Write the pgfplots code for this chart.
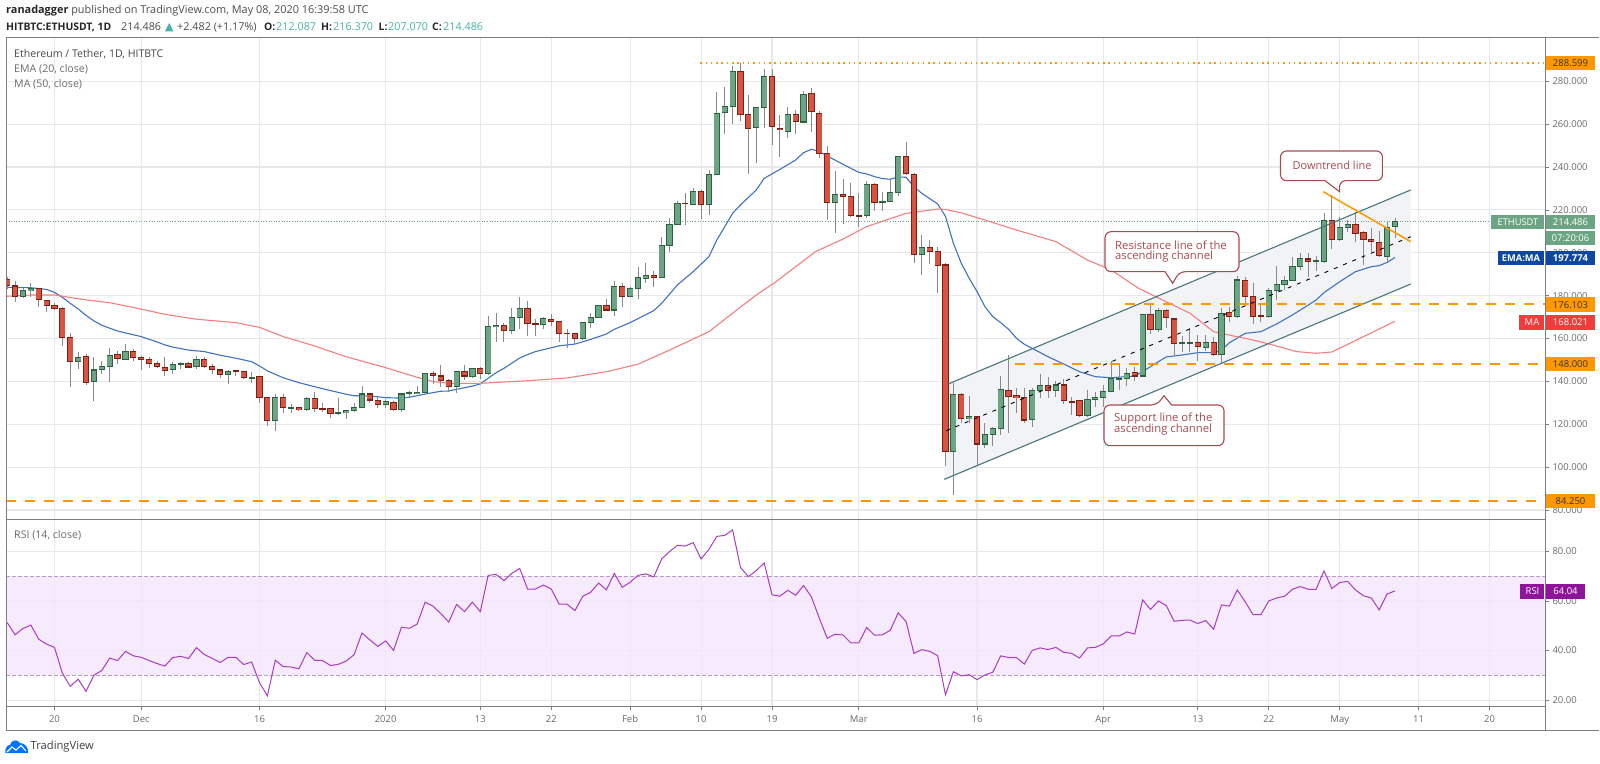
\documentclass[border=0pt]{standalone}
\usepackage{fontspec}
\setmainfont{Open Sans}
\usepackage{pgfplots}
\usepackage{pgfplotstable}
\pgfplotsset{compat=1.18}
\definecolor{upfill}{HTML}{6BA583}
\definecolor{upline}{HTML}{2C6142}
\definecolor{dnfill}{HTML}{D75442}
\definecolor{dnline}{HTML}{7A2015}
\definecolor{wick}{HTML}{8A8A8C}
\definecolor{gridc}{HTML}{E8E8EA}
\definecolor{framec}{HTML}{7E7E80}
\definecolor{emac}{HTML}{3F72C0}
\definecolor{mac}{HTML}{F47F7F}
\definecolor{orangec}{HTML}{FF9800}
\definecolor{chanl}{HTML}{4A757C}
\definecolor{chanf}{HTML}{F1F3F6}
\definecolor{rsic}{HTML}{A93CC0}
\definecolor{rsif}{HTML}{F4E6FD}
\definecolor{rsid}{HTML}{B79AC8}
\definecolor{callc}{HTML}{A94A50}
\definecolor{tealc}{HTML}{45B3A6}
\definecolor{txtg}{HTML}{6A6A6C}
\definecolor{blueb}{HTML}{0D47A1}
\definecolor{redb}{HTML}{F23B3B}
\definecolor{purb}{HTML}{8E1599}
\pgfplotstableread{
d o h l c
-6 187.6 188.9 183.0 184.7
-5 184.5 186.7 177.0 179.5
-4 179.5 183.4 178.9 182.2
-3 182.2 186.1 179.5 183.4
-2 183.3 183.7 174.9 178.0
-1 177.8 178.0 172.5 175.3
0 175.5 176.4 173.3 174.2
1 174.1 174.9 156.5 160.6
2 160.4 162.4 137.5 149.2
3 149.2 153.9 145.6 151.2
4 151.5 152.6 138.2 139.6
5 139.9 151.2 131.0 145.3
6 145.5 149.7 143.3 147.0
7 147.0 155.4 139.9 152.0
8 152.5 154.2 148.1 150.5
9 150.3 157.3 150.0 154.0
10 154.0 155.0 149.5 151.2
11 151.2 151.8 145.3 150.3
12 150.3 151.5 146.1 148.3
13 148.3 149.7 146.1 147.0
14 146.6 151.2 142.5 145.0
15 145.5 149.0 143.5 148.0
16 147.8 149.2 145.6 148.3
17 148.4 149.2 146.2 146.7
18 146.9 151.7 145.8 150.3
19 150.3 151.5 146.2 147.0
20 147.0 148.0 143.5 145.5
21 145.3 145.8 141.7 143.3
22 143.1 145.3 139.0 144.7
23 144.9 145.2 142.5 144.5
24 144.5 144.9 141.0 141.7
25 141.7 144.5 139.4 141.9
26 142.1 142.5 129.8 132.6
27 132.6 132.9 119.3 121.7
28 121.7 134.1 117.0 132.6
29 132.6 134.0 125.4 127.9
30 127.7 129.3 125.4 127.9
31 127.7 128.2 126.2 126.7
32 126.7 132.9 126.3 132.1
33 132.1 135.0 125.7 127.4
34 127.4 129.8 125.9 127.1
35 127.3 127.7 123.1 125.1
36 125.0 132.2 124.3 125.4
37 125.4 126.7 122.3 126.2
38 126.2 129.8 125.9 127.9
39 127.9 138.0 127.4 134.1
40 134.1 134.6 130.1 131.3
41 131.2 132.9 127.7 129.3
42 129.1 131.8 127.4 130.4
43 130.2 130.9 126.3 127.0
44 127.0 134.7 125.7 134.1
45 134.3 135.4 132.6 134.6
46 134.4 138.0 134.1 135.0
47 134.9 144.1 134.4 143.8
48 143.8 145.0 138.8 142.7
49 142.5 147.5 137.2 140.5
50 140.3 141.0 135.2 137.5
51 137.5 145.0 134.7 144.7
52 144.5 147.6 140.6 142.5
53 142.1 146.4 141.4 146.2
54 146.2 146.9 141.0 143.5
55 143.6 170.5 143.0 165.5
56 165.5 171.8 158.5 166.2
57 166.2 167.1 158.2 163.7
58 163.7 174.2 162.1 169.6
59 169.7 179.2 164.6 173.8
60 173.8 177.7 161.2 166.8
61 166.8 169.3 161.2 166.6
62 166.5 170.2 164.6 169.3
63 169.0 171.4 165.8 167.9
64 167.9 168.2 158.5 162.4
65 162.5 164.3 155.4 162.3
66 162.3 162.7 157.4 159.9
67 160.1 167.9 159.3 167.4
68 167.4 171.8 164.9 169.9
69 170.0 175.8 169.7 175.5
70 175.5 178.3 173.0 173.3
71 173.3 186.8 170.7 184.3
72 184.3 185.7 174.9 179.5
73 179.5 183.9 179.2 183.4
74 183.3 193.2 178.6 188.4
75 187.9 195.1 186.1 189.6
76 189.5 191.4 184.2 188.4
77 188.4 207.2 188.2 203.5
78 203.5 216.1 200.4 213.0
79 213.1 224.3 212.8 223.1
80 223.1 227.7 213.0 222.9
81 222.4 230.1 222.1 228.5
82 228.5 229.3 215.8 222.6
83 222.6 238.5 217.6 236.3
84 236.4 274.9 236.3 265.1
85 265.5 277.3 255.4 268.2
86 268.2 287.1 260.1 284.6
87 284.6 288.6 261.3 264.4
88 264.3 273.6 236.8 258.1
89 258.4 268.2 241.7 267.7
90 267.7 285.6 258.2 282.3
91 282.3 285.6 250.3 258.8
92 258.1 264.1 244.5 257.3
93 256.5 267.9 253.4 264.7
94 264.7 266.6 255.4 261.3
95 261.0 275.5 260.7 273.9
96 274.4 277.0 256.5 265.7
97 265.1 266.0 244.4 246.4
98 246.4 249.8 215.3 223.4
99 223.4 238.2 209.4 227.1
100 227.3 234.3 213.3 226.3
101 226.3 232.7 216.9 217.2
102 217.4 227.7 212.2 217.2
103 217.6 233.6 216.1 231.8
104 231.8 232.4 219.6 223.4
105 223.4 228.5 219.5 223.9
106 223.9 234.0 223.5 228.0
107 228.0 245.0 226.5 244.7
108 244.7 251.5 236.6 236.9
109 236.7 237.1 195.4 199.0
110 199.3 208.1 189.5 202.5
111 202.5 206.0 194.8 200.7
112 200.5 202.9 181.1 194.1
113 194.3 195.4 100.5 107.5
114 107.5 139.1 86.9 133.7
115 133.7 134.7 120.7 122.5
116 122.5 133.2 120.4 123.5
117 123.5 123.9 101.0 110.8
118 110.8 120.4 109.1 115.3
119 115.3 118.6 109.9 118.0
120 118.0 142.7 115.0 136.3
121 135.8 152.3 115.8 132.9
122 133.3 137.1 125.1 132.4
123 132.4 137.1 120.7 122.0
124 122.0 137.1 118.9 135.7
125 135.7 143.5 132.4 138.2
126 137.9 142.2 132.4 135.7
127 135.7 140.3 132.9 138.3
128 138.3 140.9 129.5 131.2
129 130.7 132.9 124.3 130.4
130 130.9 131.3 123.5 124.0
131 124.0 136.0 123.5 131.6
132 131.5 135.1 128.2 132.6
133 132.4 138.3 128.2 135.4
134 135.4 149.7 134.9 141.4
135 141.0 148.4 136.0 141.4
136 141.4 146.4 138.0 143.8
137 144.1 146.9 140.3 142.5
138 142.5 171.3 142.2 171.0
139 171.0 176.1 162.0 164.0
140 164.0 174.1 163.2 173.0
141 173.0 173.6 164.8 169.7
142 169.1 169.4 152.0 157.6
143 157.6 161.2 153.6 157.9
144 157.9 164.7 153.9 158.2
145 158.2 161.6 149.7 156.2
146 155.7 161.6 154.3 158.2
147 158.2 160.9 152.0 152.5
148 152.5 174.1 148.1 171.7
149 172.1 174.5 167.7 170.4
150 170.4 189.2 169.4 187.3
151 187.1 188.5 175.3 179.5
152 179.5 185.8 166.8 170.2
153 170.5 176.4 167.9 170.2
154 170.4 183.7 169.7 182.5
155 182.5 193.8 178.0 185.4
156 185.0 189.2 182.6 187.1
157 187.1 198.2 186.7 193.8
158 193.8 199.8 192.0 197.3
159 197.1 199.8 188.9 195.9
160 195.9 198.5 191.6 196.2
161 195.9 218.7 195.4 215.1
162 215.1 227.0 201.6 206.0
163 206.0 216.9 205.5 211.7
164 211.9 215.3 209.9 213.4
165 213.4 219.2 204.9 209.2
166 209.5 210.0 194.5 206.3
167 206.3 211.4 200.5 205.2
168 205.0 210.3 198.2 198.7
169 198.4 214.5 195.9 211.7
170 212.087 216.370 207.070 214.486
}\ohlc
\pgfplotstableread{
d v
-6 183.9
-3 183.7
-1 182.9
0 181.5
1 179.2
2 176.4
3 173.8
4 170.8
5 168.2
6 166.2
7 164.8
8 163.5
9 162.6
11 160.9
13 158.4
14 157.0
15 156.0
17 154.6
19 153.9
21 152.2
23 150.8
25 149.2
26 147.2
27 144.9
29 141.7
31 139.4
33 137.5
35 135.7
37 134.0
38 133.3
40 133.2
42 132.4
44 132.2
45 132.6
46 133.3
47 134.1
49 135.4
50 135.5
51 136.3
53 137.8
54 138.8
55 141.5
56 144.0
57 146.1
58 148.5
59 150.9
60 152.5
61 153.9
62 154.8
64 156.6
66 157.4
68 159.6
70 162.1
71 164.3
73 167.4
76 173.0
77 176.4
79 185.0
81 191.2
83 198.2
84 206.0
85 212.2
86 218.4
87 222.3
89 229.3
90 234.7
92 238.9
94 243.3
95 246.7
96 248.3
97 247.2
98 245.1
100 241.3
102 237.5
103 236.8
104 235.5
105 234.6
106 234.3
107 235.4
108 235.2
109 230.8
110 227.7
112 222.8
113 217.0
114 204.4
115 195.1
116 188.1
117 181.9
118 174.9
119 170.2
120 167.4
121 164.3
122 160.1
123 157.3
124 155.4
126 151.5
128 148.1
130 144.5
132 142.2
134 141.7
136 142.2
137 142.5
138 144.5
139 146.9
140 149.2
141 151.4
143 152.3
145 153.4
147 153.4
148 154.6
149 158.0
150 160.2
151 162.4
153 163.2
155 166.8
157 171.0
159 175.6
160 178.0
161 181.4
163 186.5
165 191.2
167 193.5
168 194.0
169 195.5
170 197.774
}\ema
\pgfplotstableread{
d v
-6 179.7
-3 180.3
0 180.3
4 178.0
7 176.7
10 174.5
14 171.3
18 169.0
23 167.4
26 165.2
29 160.9
33 156.5
37 151.5
42 146.4
46 141.9
48 139.9
50 139.1
54 139.1
60 140.3
65 141.6
70 144.5
74 148.0
78 154.6
83 163.2
86 171.8
89 180.3
91.5 186.5
94 193.5
96.5 200.5
100 206.4
103 212.2
105.5 215.3
108 218.4
112 220.4
113 220.2
115 218.6
118 215.3
122 210.6
127 205.2
131 196.6
134 192.0
137.5 183.4
140.5 178.0
144 171.8
147 163.2
149.5 161.2
152 159.3
154.5 157.0
157.5 153.9
160 153.1
162 153.7
170 168.021
}\mavg
\pgfplotstableread{
d v
-6 51.3
-5 46.4
-4 48.9
-3 50.3
-2 44.6
-1 42.6
0 41.3
1 30.9
2 25.6
3 28.5
4 23.6
5 30.1
6 32.0
7 37.0
8 36.0
9 39.7
10 37.9
11 37.3
12 36.0
13 34.8
14 33.8
15 37.2
16 37.7
17 36.8
18 41.2
19 38.4
20 36.9
21 35.2
22 37.3
23 37.3
24 34.4
25 35.4
26 27.1
27 21.8
28 36.1
29 33.6
30 33.4
31 32.7
32 39.2
33 36.1
34 36.0
35 34.0
36 34.5
37 35.8
38 38.4
39 47.1
40 44.3
41 41.7
42 43.9
43 40.1
44 49.4
45 49.0
46 50.7
47 59.5
48 57.9
49 54.9
50 51.5
51 58.6
52 55.7
53 59.5
54 55.7
55 70.3
56 70.7
57 68.2
58 71.1
59 73.1
60 64.8
61 64.8
62 66.4
63 64.8
64 58.7
65 58.7
66 56.1
67 61.9
68 63.5
69 67.2
70 64.5
71 71.1
72 65.5
73 67.5
74 70.3
75 70.9
76 69.7
77 76.9
78 79.9
79 82.4
80 82.1
81 83.5
82 76.9
83 80.8
84 86.0
85 86.4
86 88.6
87 73.5
88 69.8
89 72.2
90 75.3
91 62.5
92 61.9
93 64.3
94 62.3
95 66.2
96 61.6
97 53.0
98 45.0
99 46.6
100 46.3
101 43.1
102 43.1
103 49.3
104 46.2
105 46.4
106 48.2
107 55.2
108 51.7
109 38.9
110 40.4
111 39.7
112 38.0
113 22.2
114 31.5
115 29.8
116 30.3
117 28.3
118 30.2
119 31.3
120 37.9
121 37.2
122 37.2
123 34.6
124 40.1
125 41.1
126 40.4
127 41.3
128 39.3
129 38.9
130 37.0
131 41.1
132 41.3
133 42.7
134 45.9
135 45.9
136 47.5
137 46.7
138 60.4
139 56.6
140 60.0
141 58.1
142 51.8
143 52.2
144 52.3
145 50.9
146 52.1
147 48.6
148 58.4
149 57.9
150 64.4
151 59.7
152 54.5
153 54.5
154 60.0
155 61.2
156 61.9
157 64.7
158 65.8
159 64.7
160 64.7
161 72.1
162 65.0
163 67.4
164 67.9
165 64.4
166 62.1
167 61.2
168 56.4
169 62.8
170 64.04
}\rsi
\newcommand\fs[1]{\fontsize{#1}{#1}\selectfont}
\pgfplotsset{
  pane/.style={
    scale only axis, width=1539pt,
    xmin=-6.15, xmax=189.03,
    xtick={0,11,26,42,54,63,73,82,91,102,117,133,145,154,163,173,182},
    axis line style={color=framec,line width=1pt},
    tick style={color=framec,line width=0.8pt},
    grid=major,
    major grid style={color=gridc,line width=1.1pt},
    ytick pos=right, yticklabel pos=right,
    tick align=outside, major tick length=4pt,
    tick label style={font=\fs{9.5},text=txtg},
    clip=true,
  },
  candlebar/.style={forget plot, draw=none, mark=none},
}
\begin{document}
\begin{tikzpicture}[x=1pt,y=1pt]
\useasboundingbox (0,0) rectangle (1600,763);
% ---------- price pane
\begin{axis}[pane, at={(6pt,243pt)}, anchor=south west, height=482pt,
  ymin=75.33, ymax=300.2,
  ytick={80,100,...,280},
  xticklabels={}, xtick pos=bottom, x tick style={draw=none},
  /pgf/number format/.cd, fixed, fixed zerofill, precision=3, assume math mode=true]
% channel fill
\addplot[fill=chanf, draw=none, forget plot] coordinates {(113.35,138.8) (172,229.3) (172,185.4) (112.85,94.3)} --cycle;
\addplot[color=emac, line width=1.1pt, forget plot] table[x=d,y=v] {\ema};
\addplot[color=mac, line width=1.1pt, forget plot] table[x=d,y=v] {\mavg};
% price line
\addplot[color=upfill, line width=0.8pt, dash pattern=on 1pt off 1.6pt, forget plot] coordinates {(-6.15,214.486) (189.03,214.486)};
% wicks
\addplot[candlebar, error bars/.cd, y dir=both, y explicit, error mark=none,
  error bar style={color=wick,line width=0.9pt}]
  table[x=d, y=c, y error plus expr=\thisrow{h}-\thisrow{c}, y error minus expr=\thisrow{c}-\thisrow{l}] {\ohlc};
% bodies up
\addplot[candlebar, error bars/.cd, y dir=both, y explicit, error mark=none,
  error bar style={color=upline,line width=6.2pt}]
  table[x=d, y expr={\thisrow{c}>=\thisrow{o} ? (\thisrow{c}+\thisrow{o})/2 : nan},
        y error expr={abs(\thisrow{c}-\thisrow{o})/2+0.25}] {\ohlc};
\addplot[candlebar, error bars/.cd, y dir=both, y explicit, error mark=none,
  error bar style={color=upfill,line width=4.8pt}]
  table[x=d, y expr={\thisrow{c}>=\thisrow{o} ? (\thisrow{c}+\thisrow{o})/2 : nan},
        y error expr={max(abs(\thisrow{c}-\thisrow{o})/2-0.25,0)}] {\ohlc};
% bodies down
\addplot[candlebar, error bars/.cd, y dir=both, y explicit, error mark=none,
  error bar style={color=dnline,line width=6.2pt}]
  table[x=d, y expr={\thisrow{c}<\thisrow{o} ? (\thisrow{c}+\thisrow{o})/2 : nan},
        y error expr={abs(\thisrow{c}-\thisrow{o})/2+0.25}] {\ohlc};
\addplot[candlebar, error bars/.cd, y dir=both, y explicit, error mark=none,
  error bar style={color=dnfill,line width=4.8pt}]
  table[x=d, y expr={\thisrow{c}<\thisrow{o} ? (\thisrow{c}+\thisrow{o})/2 : nan},
        y error expr={max(abs(\thisrow{c}-\thisrow{o})/2-0.25,0)}] {\ohlc};
% channel lines
\addplot[color=chanl, line width=1.1pt, forget plot] coordinates {(113.35,138.8) (172,229.3)};
\addplot[color=chanl, line width=1.1pt, forget plot] coordinates {(112.85,94.3) (172,185.4)};
\addplot[color=black, line width=0.9pt, dash pattern=on 4pt off 6pt, forget plot] coordinates {(113.1,117) (172,207.5)};
% horizontal levels
\addplot[color=orangec, line width=1.6pt, dash pattern=on 10pt off 9pt, forget plot] coordinates {(-6.15,84.25) (189.03,84.25)};
\addplot[color=orangec, line width=1.6pt, dash pattern=on 10pt off 9pt, forget plot] coordinates {(121.8,148) (189.03,148)};
\addplot[color=orangec, line width=1.6pt, dash pattern=on 10pt off 9pt, forget plot] coordinates {(135.8,176.103) (189.03,176.103)};
\addplot[color=orangec, line width=1.5pt, dash pattern=on 1.5pt off 3.8pt, forget plot] coordinates {(81.9,288.599) (189.03,288.599)};
% downtrend
\addplot[color=orangec, line width=1.5pt, forget plot] coordinates {(160.9,228.5) (172,205.2)};
\end{axis}
% ---------- RSI pane
\begin{axis}[pane, at={(6pt,57pt)}, anchor=south west, height=186pt,
  ymin=17.7, ymax=92.6,
  ytick={20,40,60,80},
  xtick pos=bottom,
  xticklabels={20,Dec,16,2020,13,22,Feb,10,19,Mar,16,Apr,13,22,May,11,20},
  xticklabel style={yshift=-2pt},
  /pgf/number format/.cd, fixed, fixed zerofill, precision=2, assume math mode=true]
\addplot[fill=rsif, fill opacity=0.82, draw=none, forget plot] coordinates {(-6.15,30) (189.03,30) (189.03,70) (-6.15,70)} --cycle;
\addplot[color=rsid, line width=0.9pt, dash pattern=on 3.5pt off 2.5pt, forget plot] coordinates {(-6.15,70) (189.03,70)};
\addplot[color=rsid, line width=0.9pt, dash pattern=on 3.5pt off 2.5pt, forget plot] coordinates {(-6.15,30) (189.03,30)};
\addplot[color=rsic, line width=1pt, forget plot] table[x=d,y=v] {\rsi};
\end{axis}
% ---------- everything else in image pixels
\begin{scope}[shift={(0,763)},yscale=-1]
\draw[color=framec,line width=1pt] (1599,38) -- (6,38) -- (6,730) -- (1599,730);
\draw[color=framec,line width=1pt] (1545,706) -- (1545,730);
% header
\node[anchor=west,inner sep=0,text=black!85] at (6,11) {\fs{10.9}\textbf{ranadagger}\ \textcolor{black!70}{published on TradingView.com, May 08, 2020 16:39:58 UTC}};
\node[anchor=west,inner sep=0,text=black!85] at (6,27) {\fs{10.4}\textbf{HITBTC:ETHUSDT, 1D}};
\node[anchor=west,inner sep=0,text=black!70] at (121,27) {\fs{10.8}214.486};
\fill[tealc] (165,31.5) -- (173.5,31.5) -- (169.2,23) -- cycle;
\node[anchor=west,inner sep=0,text=black!70] at (177,27) {\fs{10.8}+2.482 (+1.17\%)};
\node[anchor=west,inner sep=0,text=black!85] at (264,27) {\fs{10.4}\textbf{O:}};
\node[anchor=west,inner sep=0,text=tealc] at (276,27) {\fs{10.8}212.087};
\node[anchor=west,inner sep=0,text=black!85] at (321,27) {\fs{10.4}\textbf{H:}};
\node[anchor=west,inner sep=0,text=tealc] at (333,27) {\fs{10.8}216.370};
\node[anchor=west,inner sep=0,text=black!85] at (378.5,27) {\fs{10.4}\textbf{L:}};
\node[anchor=west,inner sep=0,text=tealc] at (388,27) {\fs{10.8}207.070};
\node[anchor=west,inner sep=0,text=black!85] at (432,27) {\fs{10.4}\textbf{C:}};
\node[anchor=west,inner sep=0,text=tealc] at (443,27) {\fs{10.8}214.486};
% pane titles
\node[anchor=west,inner sep=0,text=black!72] at (14,54) {\fs{10.6}Ethereum / Tether, 1D, HITBTC};
\node[anchor=west,inner sep=0,text=txtg] at (14,69) {\fs{10.6}EMA (20, close)};
\node[anchor=west,inner sep=0,text=txtg] at (14,84.5) {\fs{10.6}MA (50, close)};
\node[anchor=west,inner sep=0,text=txtg] at (14,535) {\fs{10.6}RSI (14, close)};
% right-hand labels
\foreach \yc/\tx in {63/288.599,304.7/176.103,364.3/148.000,501/84.250}{
  \fill[orangec] (1546,\yc-7.2) rectangle (1595,\yc+7.2);
  \node[text=black!80,inner sep=0] at (1570.5,\yc) {\fs{9.5}\tx};
}
\fill[upfill] (1491,215) rectangle (1544,229.3);
\fill[upfill] (1546,215) rectangle (1595,229.3);
\node[text=white,inner sep=0] at (1518,222.2) {\fs{9.3}ETHUSDT};
\node[text=white,inner sep=0] at (1570.5,222.2) {\fs{9.5}214.486};
\fill[upfill] (1546,231) rectangle (1595,245.3);
\node[text=white,inner sep=0] at (1570.5,238.2) {\fs{9.5}07:20:06};
\fill[blueb] (1498,251) rectangle (1544,265.3);
\fill[blueb] (1546,251) rectangle (1595,265.3);
\node[text=white,inner sep=0] at (1521,258.2) {\fs{9.3}\textbf{EMA:MA}};
\node[text=white,inner sep=0] at (1570.5,258.2) {\fs{9.5}\textbf{197.774}};
\fill[redb] (1519,315) rectangle (1544,329.6);
\fill[redb] (1546,315) rectangle (1595,329.6);
\node[text=white,inner sep=0] at (1532,322.3) {\fs{9.5}MA};
\node[text=white,inner sep=0] at (1570.5,322.3) {\fs{9.5}168.021};
\fill[purb] (1520,584) rectangle (1544,599);
\fill[purb] (1546,584) rectangle (1585,599);
\node[text=white,inner sep=0] at (1532.5,591.5) {\fs{9.5}RSI};
\node[text=white,inner sep=0] at (1565.5,591.5) {\fs{9.5}64.04};
% callouts
\draw[callc,fill=white,line width=1.1pt,rounded corners=6pt]
  (1105,231.7) -- (1239,231.7) -- (1239,271.7) -- (1179.3,271.7) [sharp corners] -- (1172.7,283.3) -- (1165,271.7) [rounded corners=6pt] -- (1105,271.7) -- cycle;
\node[anchor=west,inner sep=0,text=callc] at (1115,245.7) {\fs{11.3}Resistance line of the};
\node[anchor=west,inner sep=0,text=callc] at (1115,256.2) {\fs{11.3}ascending channel};
\draw[callc,fill=white,line width=1.1pt,rounded corners=6pt]
  (1104,405) -- (1157,405) [sharp corners] -- (1164,395.7) -- (1171.7,405) [rounded corners=6pt] -- (1224,405) -- (1224,445.7) -- (1104,445.7) -- cycle;
\node[anchor=west,inner sep=0,text=callc] at (1114,419) {\fs{11.3}Support line of the};
\node[anchor=west,inner sep=0,text=callc] at (1114,430) {\fs{11.3}ascending channel};
\draw[callc,fill=white,line width=1.1pt,rounded corners=6pt]
  (1280.5,151) -- (1382.4,151) -- (1382.4,180.7) -- (1339.6,180.7) [sharp corners] -- (1339.6,191.7) -- (1325,180.7) [rounded corners=6pt] -- (1280.5,180.7) -- cycle;
\node[inner sep=0,text=callc] at (1332,165.5) {\fs{11}Downtrend line};
% logo
\fill[color=blue!55!cyan] (5.5,753) .. controls (4.5,746) and (9,745) .. (10,745) .. controls (11,739.5) and (18,739) .. (20,743) .. controls (25,743) and (29,748) .. (28,753) -- cycle;
\draw[white,line width=1.1pt] (7,752) -- (12,747) -- (16,750) -- (21,745.5) -- (26,751);
\node[anchor=west,inner sep=0,text=black!75] at (30.5,747) {\fs{11.2}TradingView};
\end{scope}
\end{tikzpicture}
\end{document}
